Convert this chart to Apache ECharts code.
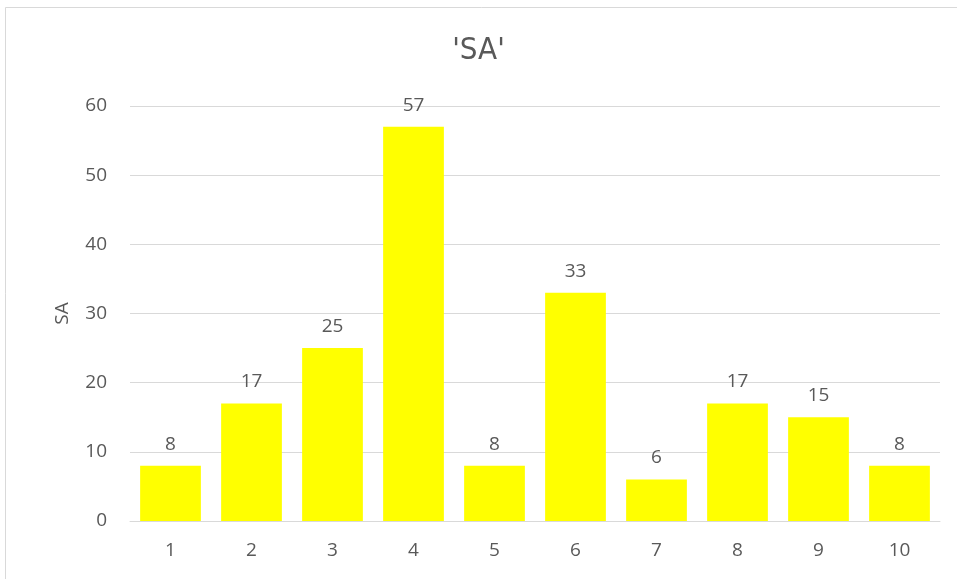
<!DOCTYPE html>
<html>
<head>
<meta charset="utf-8">
<script src="https://cdn.jsdelivr.net/npm/echarts@6/dist/echarts.min.js"></script>
<style>
  html, body { margin: 0; padding: 0; background: #fff; }
  #chart { width: 957px; height: 579px; }
</style>
</head>
<body>
<div id="chart"></div>
<script>
// Category labels and SA counts
const categories = ['1', '2', '3', '4', '5', '6', '7', '8', '9', '10'];
const saValues = [8, 17, 25, 57, 8, 33, 6, 17, 15, 8];
const yTicks = { min: 0, max: 60, interval: 10 };

const textColor = '#595959';
const lineColor = '#d9d9d9';
const font = 'Open Sans';

const chart = echarts.init(document.getElementById('chart'), null, { renderer: 'canvas' });
chart.setOption({
  backgroundColor: '#ffffff',
  animation: false,
  graphic: [{
    type: 'rect',
    silent: true,
    shape: { x: 5.5, y: 7.5, width: 1200, height: 1200 },
    style: { fill: 'none', stroke: lineColor, lineWidth: 1 }
  }],
  title: {
    text: "'SA'",
    left: 'center',
    top: 30,
    textStyle: { fontFamily: '"DejaVu Sans Condensed", "Open Sans", sans-serif', fontSize: 31, fontWeight: 'normal', color: textColor }
  },
  grid: { left: 130, right: 17, top: 106, bottom: 58 },
  xAxis: {
    type: 'category',
    data: categories,
    axisTick: { show: false },
    axisLine: { show: true, lineStyle: { color: lineColor, width: 1 } },
    axisLabel: { color: textColor, fontFamily: font, fontSize: 19, margin: 20 }
  },
  yAxis: {
    type: 'value',
    min: yTicks.min,
    max: yTicks.max,
    interval: yTicks.interval,
    name: 'SA',
    nameLocation: 'middle',
    nameRotate: 90,
    nameGap: 58,
    nameTextStyle: { color: textColor, fontFamily: font, fontSize: 19 },
    axisLine: { show: false },
    axisTick: { show: false },
    axisLabel: { color: textColor, fontFamily: font, fontSize: 19, margin: 23 },
    splitLine: { lineStyle: { color: lineColor, width: 1 } }
  },
  series: [{
    type: 'bar',
    data: saValues,
    barCategoryGap: '25%',
    itemStyle: { color: '#ffff00' },
    label: {
      show: true,
      position: 'top',
      distance: 12,
      color: textColor,
      fontFamily: font,
      fontSize: 19
    }
  }]
});
</script>
</body>
</html>
